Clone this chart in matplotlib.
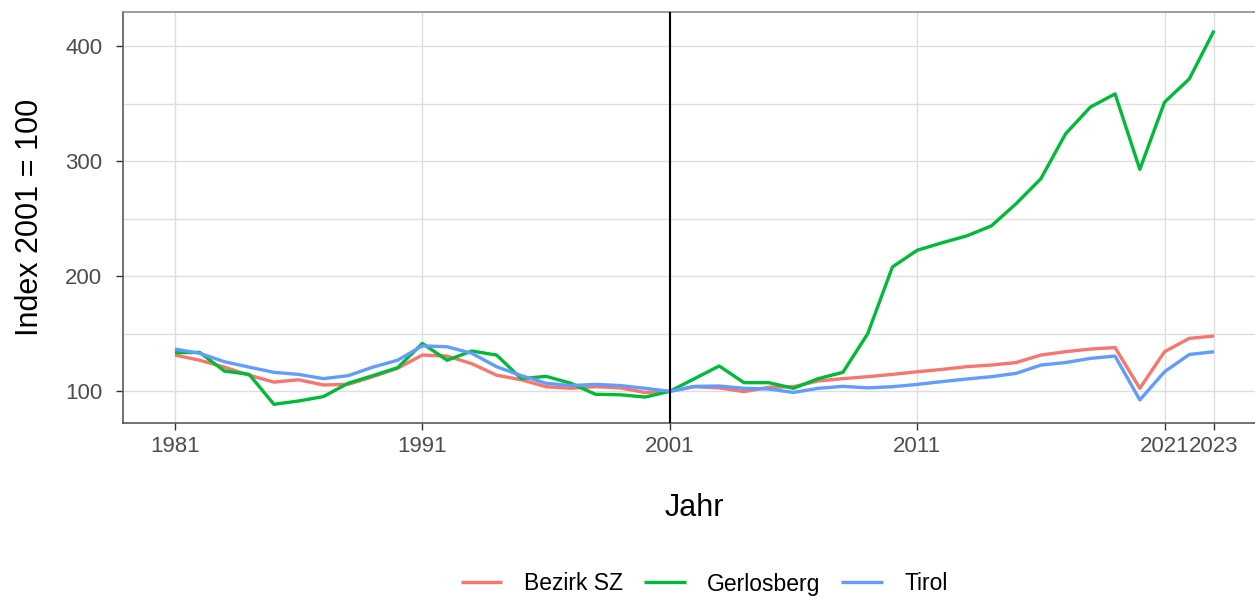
import matplotlib.pyplot as plt
import numpy as np

plt.rcParams['font.family'] = ['Liberation Sans', 'DejaVu Sans']

years = list(range(1981, 2024))

bezirk_sz = [131.5, 127, 121, 114, 108, 110, 105.5, 106, 112.7, 120,
             131.5, 130.6, 124, 114, 110, 104, 102.6, 104, 103, 99,
             100, 104, 103, 99.7, 103.5, 104, 109, 111, 112.7, 114.7,
             117, 119, 121.4, 122.8, 125, 131.5, 134.4, 136.7, 138, 102.6,
             134.4, 146, 148]

gerlosberg = [133.5, 133.8, 117.6, 114.7, 88.7, 91.6, 95.4, 107, 113.6, 120.5,
              141.6, 127, 135, 131.5, 111, 113, 107, 97.4, 97, 95,
              100, 111, 122, 107.5, 107.5, 102.6, 111, 116.5, 150, 208,
              222.5, 229, 235, 243.7, 263, 284.7, 323.7, 346.9, 358.4, 292.8,
              351.2, 371.4, 413.3]

tirol = [136.7, 133, 125.7, 121, 116.5, 114.7, 111, 113.6, 121, 127,
         139.5, 138.7, 133, 121.4, 113.6, 107, 105, 106, 105, 102.6,
         100, 104.3, 104.6, 102.6, 102, 99, 102.6, 104.3, 103, 104,
         106, 108.4, 110.7, 112.7, 115.6, 122.8, 125, 128.6, 130.6, 92.5,
         117, 132, 134.4]

series_names = ['Bezirk SZ', 'Gerlosberg', 'Tirol']
series_values = [bezirk_sz, gerlosberg, tirol]
colors = ['#F8766D', '#00BA38', '#619CFF']

x_breaks = [1981, 1991, 2001, 2011, 2021, 2023]
y_breaks = [100, 200, 300, 400]
y_minor = [150, 250, 350]
ref_year = 2001

fig = plt.figure(figsize=(12.55, 5.97), dpi=100)
ax = fig.add_axes([123 / 1255, 1 - 423 / 597, (1266 - 123) / 1255, (423 - 12) / 597])

for name, vals, col in zip(series_names, series_values, colors):
    ax.plot(years, vals, color=col, lw=2.4, label=name, solid_capstyle='butt', zorder=3)

ax.axvline(ref_year, color='black', lw=1.5, zorder=4)

# ggplot-artige Achsenerweiterung (5 %)
all_vals = np.concatenate([np.array(v) for v in series_values])
xr = years[-1] - years[0]
ax.set_xlim(years[0] - 0.05 * xr, years[-1] + 0.05 * xr)
yr = all_vals.max() - all_vals.min()
ax.set_ylim(all_vals.min() - 0.05 * yr, all_vals.max() + 0.05 * yr)

ax.set_xticks(x_breaks)
ax.set_yticks(y_breaks)
ax.set_yticks(y_minor, minor=True)
ax.grid(which='major', color='#DEDEDE', lw=1.0, zorder=0)
ax.grid(which='minor', axis='y', color='#DEDEDE', lw=1.0, zorder=0)
ax.tick_params(which='minor', left=False)
ax.tick_params(axis='both', which='major', labelsize=16, labelcolor='#4D4D4D',
               color='#333333', length=5, width=1.0)
ax.tick_params(axis='x', pad=4)
ax.tick_params(axis='y', pad=10)

ax.spines['top'].set_color('#8C8C8C')
ax.spines['right'].set_visible(False)
for s in ['left', 'bottom']:
    ax.spines[s].set_color('#5A5A5A')
    ax.spines[s].set_linewidth(1.2)
ax.spines['top'].set_linewidth(1.2)

ax.set_xlabel('Jahr', fontsize=22, labelpad=26)
ax.set_ylabel('Index 2001 = 100', fontsize=22, labelpad=14)
ax.yaxis.set_label_coords(-78 / 1143, 0.5)

# Legende unten, etwas angehoben damit sie ganz sichtbar bleibt
handles, labels = ax.get_legend_handles_labels()
fig.legend(handles, labels, loc='center', ncol=3, frameon=False, fontsize=16.5,
           bbox_to_anchor=(704 / 1255, 1 - 584 / 597), handlelength=1.83,
           handletextpad=0.92, columnspacing=0.92, borderpad=0)

plt.savefig('out.png', dpi=100)
